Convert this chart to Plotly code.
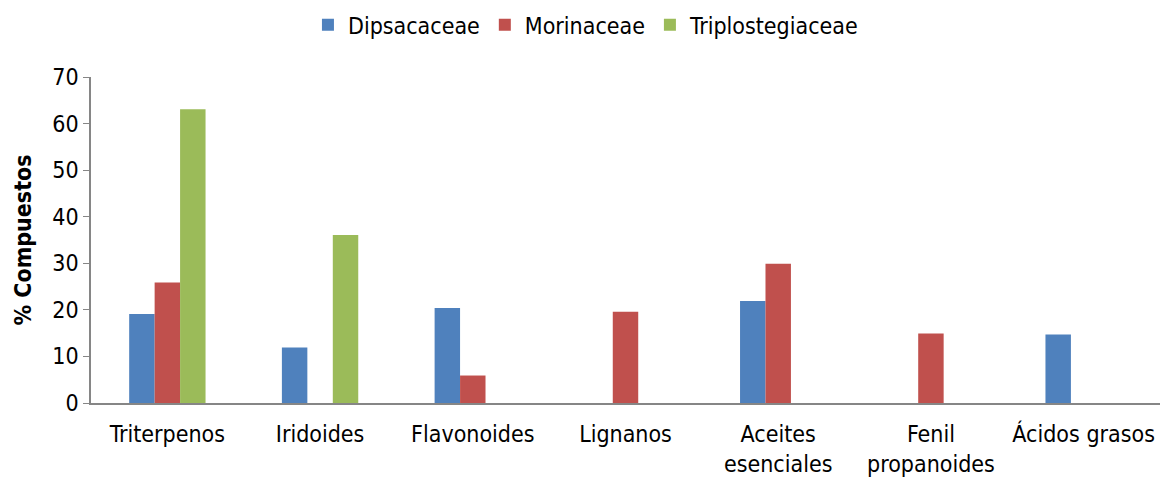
import plotly.graph_objects as go

categorias = ["Triterpenos", "Iridoides", "Flavonoides", "Lignanos",
              "Aceites<br>esenciales", "Fenil<br>propanoides", "Ácidos grasos"]
dipsacaceae = [19.1, 11.9, 20.4, None, 21.9, None, 14.7]
morinaceae = [25.9, None, 5.9, 19.6, 29.9, 14.9, None]
triplostegiaceae = [63.1, 36.1, None, None, None, None, None]

series = [
    ("Dipsacaceae", dipsacaceae, "#4F81BD"),
    ("Morinaceae", morinaceae, "#C0504D"),
    ("Triplostegiaceae", triplostegiaceae, "#9BBB59"),
]

fig = go.Figure()
for nombre, valores, color in series:
    fig.add_trace(go.Bar(name=nombre, x=categorias, y=valores,
                         marker=dict(color=color, line=dict(width=0))))

fuente = "DejaVu Sans Condensed, DejaVu Sans"
fig.update_layout(
    width=1160, height=477,
    margin=dict(l=91, r=0, t=77, b=74, autoexpand=False),
    paper_bgcolor="white", plot_bgcolor="white",
    barmode="group", bargap=0.5, bargroupgap=0,
    font=dict(family=fuente, size=23, color="#000000"),
    legend=dict(orientation="h", x=0.463, xanchor="center", y=1.16, yanchor="middle",
                yref="paper", font=dict(size=23), itemwidth=30,
                traceorder="normal"),
    xaxis=dict(showline=True, linecolor="#868686", linewidth=2, ticks="",
               showgrid=False, tickfont=dict(size=23), ticklabelstandoff=9),
    yaxis=dict(range=[0, 70], dtick=10, showline=True, linecolor="#868686",
               linewidth=1.5, ticks="outside", ticklen=6, tickcolor="#868686",
               showgrid=False, zeroline=False, tickfont=dict(size=23),
               title=dict(text="<b>% Compuestos</b>", font=dict(size=23), standoff=14)),
)

fig.write_html("out.html")
